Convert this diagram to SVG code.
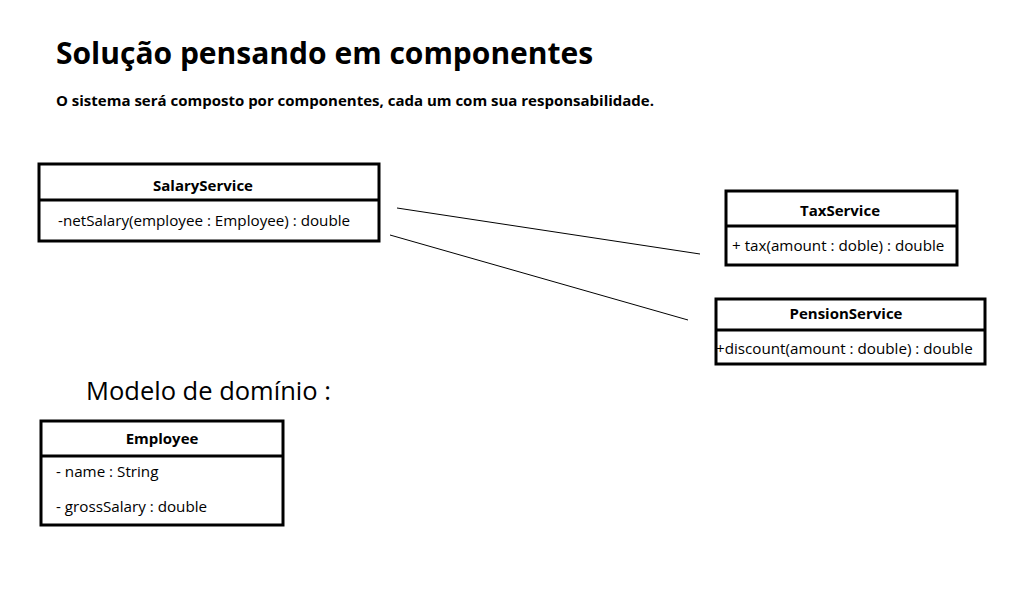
<svg xmlns="http://www.w3.org/2000/svg" width="1021" height="592" viewBox="0 0 1021 592">
<style>
text{font-family:"Open Sans","Noto Sans","Liberation Sans",sans-serif;fill:#000}
.box{fill:#fff;stroke:#000;stroke-width:3}
.div{stroke:#000;stroke-width:3}
.name{font-weight:bold;font-size:15px;text-anchor:middle}
.mem{font-size:15.2px}
.conn{stroke:#000;stroke-width:1;fill:none}
</style>
<rect width="1021" height="592" fill="#fff"/>
<text x="56" y="64" font-size="30" font-weight="bold">Solução pensando em componentes</text>
<text x="56" y="106" font-size="15" font-weight="bold">O sistema será composto por componentes, cada um com sua responsabilidade.</text>
<text x="86" y="400" font-size="25.5">Modelo de domínio :</text>
<g id="connectors">
<line class="conn" x1="397" y1="208" x2="700" y2="254"/>
<line class="conn" x1="390" y1="235" x2="688" y2="320"/>
</g>
<g id="SalaryService">
<rect class="box" x="39" y="164" width="340" height="77"/>
<line class="div" x1="39" y1="200" x2="379" y2="200"/>
<text class="name" x="203" y="191">SalaryService</text>
<text class="mem" x="58" y="226">-netSalary(employee : Employee) : double</text>
</g>
<g id="TaxService">
<rect class="box" x="726" y="191" width="231" height="74"/>
<line class="div" x1="726" y1="226" x2="957" y2="226"/>
<text class="name" x="840" y="216">TaxService</text>
<text class="mem" x="732" y="251">+ tax(amount : doble) : double</text>
</g>
<g id="PensionService">
<rect class="box" x="716" y="299" width="269" height="65"/>
<line class="div" x1="716" y1="330" x2="985" y2="330"/>
<text class="name" x="846" y="319">PensionService</text>
<text class="mem" x="716" y="354">+discount(amount : double) : double</text>
</g>
<g id="Employee">
<rect class="box" x="41" y="421" width="242" height="104"/>
<line class="div" x1="41" y1="456" x2="283" y2="456"/>
<text class="name" x="162" y="444">Employee</text>
<text class="mem" x="56" y="477">- name : String</text>
<text class="mem" x="56" y="512">- grossSalary : double</text>
</g>
</svg>
